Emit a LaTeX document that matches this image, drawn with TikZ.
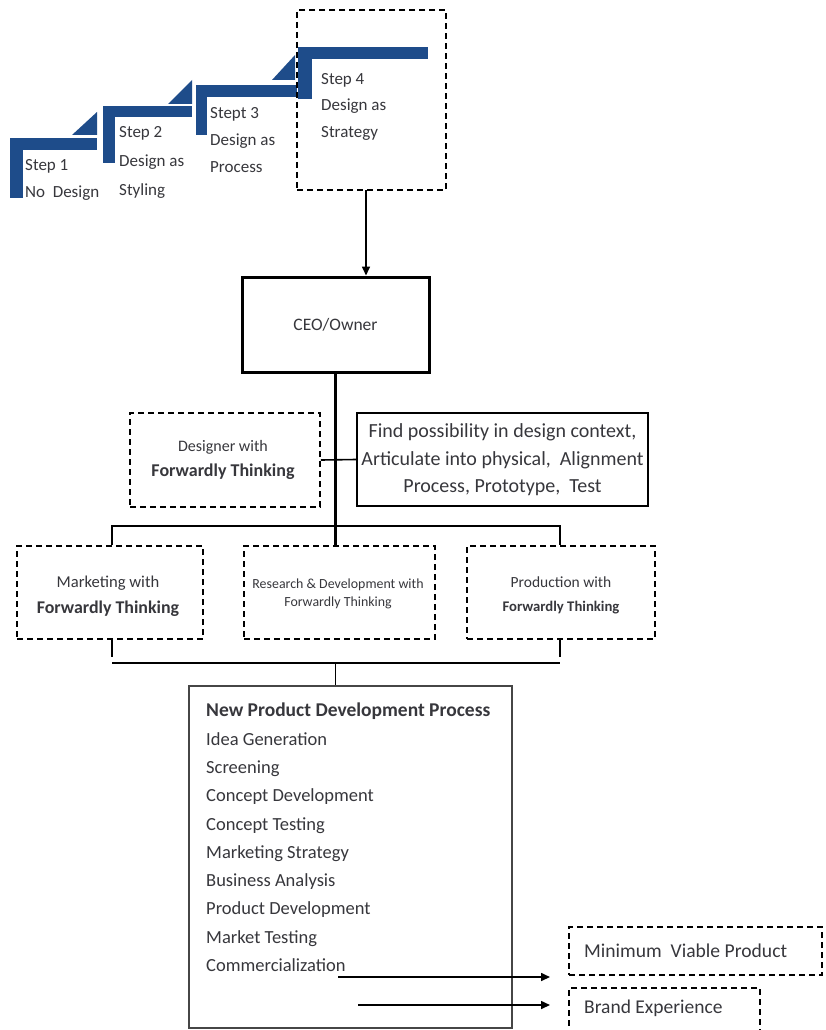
\documentclass[tikz,border=0pt]{standalone}
\usepackage{fontspec}
\setmainfont{Carlito}
\usetikzlibrary{arrows.meta}
\definecolor{stairblue}{RGB}{30,76,138}
\definecolor{txtgray}{RGB}{55,55,60}
\definecolor{boxgray}{RGB}{70,70,70}
\tikzset{
  stair/.style={fill=stairblue, draw=none},
  dbox/.style={draw=black, line width=1.8pt, dash pattern=on 6pt off 4pt, inner sep=0pt},
  sbox/.style={draw=black, line width=1.8pt, inner sep=0pt},
  txt/.style={text=txtgray, align=center, inner sep=0pt},
  ltxt/.style={text=txtgray, align=left, inner sep=0pt},
  wire/.style={draw=black, line width=2.6pt},
  thinwire/.style={draw=black, line width=1.6pt},
  arr/.style={draw=black, line width=1.6pt, -{Triangle[length=9pt,width=8pt]}},
}
\newcommand{\fs}[2]{\fontsize{#1}{#2}\selectfont}
\begin{document}
\begin{tikzpicture}[x=1pt,y=-1pt]
\clip (0,0) rectangle (825,1030);
\fill[white] (0,0) rectangle (825,1030);

% staircase
\fill[stair] (10,138) rectangle (23,198);
\fill[stair] (10,138) rectangle (97,150);
\fill[stair] (72,135) -- (97,112) -- (97,135) -- cycle;
\fill[stair] (103,106) rectangle (115,163);
\fill[stair] (103,106) rectangle (192,117);
\fill[stair] (168,104) -- (192,80) -- (192,104) -- cycle;
\fill[stair] (196,85) rectangle (207,135);
\fill[stair] (196,85) rectangle (297,97);
\fill[stair] (272,80) -- (295,55) -- (295,80) -- cycle;
\fill[stair] (298,47) rectangle (312,99);
\fill[stair] (298,47) rectangle (428,59);

\node[ltxt, anchor=west, font=\fs{17}{27}] (s1) at (25,179.5) {Step 1\\No~ Design};
\node[ltxt, anchor=west, font=\fs{17}{29}] (s2) at (119,162.5) {Step 2\\Design as\\Styling};
\node[ltxt, anchor=west, font=\fs{17}{27}] (s3) at (210,140) {Stept 3\\Design as\\Process};
\node[ltxt, anchor=west, font=\fs{17}{26.5}] (s4) at (321,106.5) {Step 4\\Design as\\Strategy};

\node[dbox, minimum width=149pt, minimum height=180pt] (step4) at (371.5,100) {};

% CEO
\node[draw=black, line width=3pt, inner sep=0pt, minimum width=187pt, minimum height=95pt,
      text=txtgray, font=\fs{17.5}{20}] (ceo) at (335.5,324.5) {CEO/Owner};
\coordinate (a1) at (366,190);
\draw[arr] (a1) -- (a1 |- ceo.north);

% designer & find
\node[dbox, minimum width=190pt, minimum height=94pt] (des) at (225,460) {};
\node[txt, font=\fs{16}{25}] (destxt) at (223,460) {Designer with\\\fontsize{18}{25}\selectfont\textbf{Forwardly Thinking}};
\node[sbox, minimum width=291pt, minimum height=93pt] (find) at (502.5,459.5) {};
\node[txt, font=\fs{20}{27.5}] (findtxt) at (502.5,460) {Find possibility in design context,\\Articulate into physical,~ Alignment\\Process, Prototype,~ Test};

% three departments
\node[dbox, minimum width=186pt, minimum height=93pt] (mkt) at (110,592.5) {};
\node[txt, font=\fs{16.6}{26}] (mkttxt) at (108,596) {Marketing with\\\fontsize{17.9}{26}\selectfont\textbf{Forwardly Thinking}};
\node[dbox, minimum width=191pt, minimum height=93pt] (rd) at (339.5,592.5) {};
\node[txt, font=\fs{13.9}{18}] (rdtxt) at (338,594) {Research \& Development with\\Forwardly Thinking};
\node[dbox, minimum width=188pt, minimum height=93pt] (prod) at (561,592.5) {};
\node[txt, font=\fs{15.5}{24}] (prodtxt) at (561,595) {Production with\\\fontsize{14.7}{24}\selectfont\textbf{Forwardly Thinking}};

% upper bus
\coordinate (busL) at (112,526);
\coordinate (busR) at (560,526);
\coordinate (busM) at (ceo.south |- busL);
\draw[wire] (ceo.south) -- (busM);
\draw[wire] (busL |- mkt.north) -- (busL) -- (busR) -- (busR |- prod.north);
\draw[wire] (busM) -- (busM |- rd.north);
\draw[thinwire] (des.east) -- (find.west);

% NPD box
\node[draw=boxgray, line width=1.5pt, inner sep=0pt, minimum width=323pt, minimum height=342pt] (npd) at (350.5,857) {};
\node[ltxt, anchor=north west, font=\fs{18.5}{28.3}] (npdtxt) at (206,703) {\fontsize{19.5}{28.3}\selectfont\textbf{New Product Development Process}\\Idea Generation\\Screening\\Concept Development\\Concept Testing\\Marketing Strategy\\Business Analysis\\Product Development\\Market Testing\\Commercialization};

% lower bus
\coordinate (bL) at (112,663);
\coordinate (bR) at (560,663);
\draw[thinwire] (bL |- mkt.south) -- ([yshift=6pt]bL);
\draw[thinwire] (bR |- prod.south) -- ([yshift=6pt]bR);
\draw[thinwire] (bL) -- (bR);
\draw[thinwire] (busM |- bL) -- (busM |- npd.north);

% outputs
\node[dbox, minimum width=253pt, minimum height=48pt] (mvp) at (695.5,951) {};
\node[ltxt, anchor=west, font=\fs{19.6}{22}] (mvptxt) at (584,951) {Minimum~ Viable Product};
\node[dbox, minimum width=191pt, minimum height=46pt] (brand) at (664.5,1011) {};
\node[ltxt, anchor=west, font=\fs{19.5}{22}] (brandtxt) at (584,1008) {Brand Experience};

\coordinate (c1) at (338,977);
\coordinate (c1e) at (550,977);
\coordinate (c2) at (358,1005);
\coordinate (c2e) at (550,1005);
\draw[arr] (c1) -- (c1e);
\draw[arr] (c2) -- (c2e);
\end{tikzpicture}
\end{document}
